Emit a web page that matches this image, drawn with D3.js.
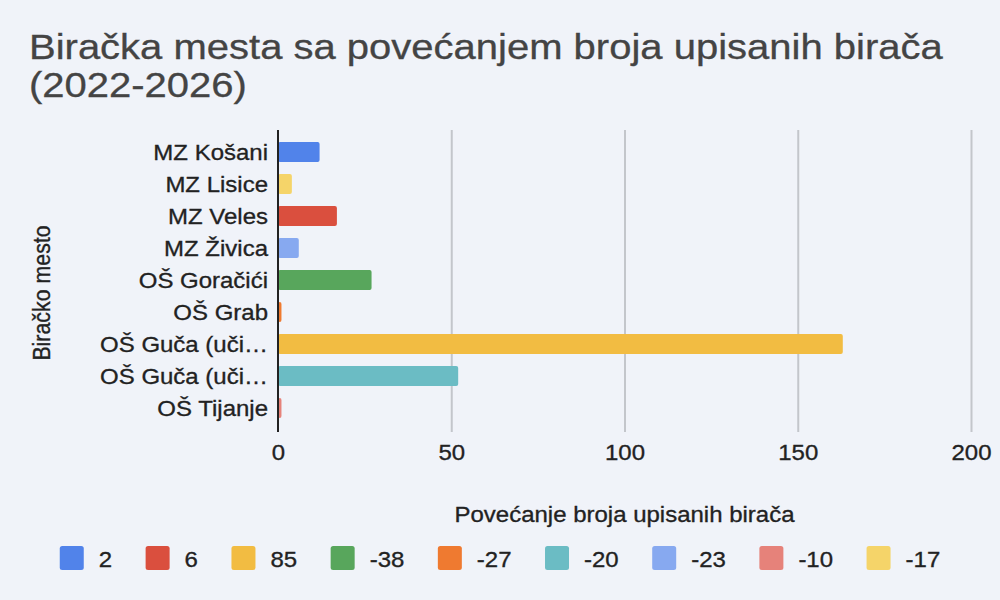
<!DOCTYPE html>
<html>
<head>
<meta charset="utf-8">
<script src="https://cdn.jsdelivr.net/npm/d3@7"></script>
<style>
  html, body { margin: 0; padding: 0; background: #f0f3f9; }
  svg { display: block; font-family: "Liberation Sans", Arial, Helvetica, sans-serif; }
  svg text { stroke-width: 0.35px; }
</style>
</head>
<body>
<svg id="chart" width="1000" height="600"></svg>
<script>
// ---- data ----
const titleLines = ["Biračka mesta sa povećanjem broja upisanih birača", "(2022-2026)"];
const categories = ["MZ Košani", "MZ Lisice", "MZ Veles", "MZ Živica", "OŠ Goračići", "OŠ Grab", "OŠ Guča (uči…", "OŠ Guča (uči…", "OŠ Tijanje"];
const values = [12, 4, 17, 6, 27, 1, 163, 52, 1];
const barSeries = ["2", "-17", "6", "-23", "-38", "-27", "85", "-20", "-10"];
const seriesNames = ["2", "6", "85", "-38", "-27", "-20", "-23", "-10", "-17"];
const seriesColors = ["#5183ea", "#da4f3e", "#f2bc42", "#58a65c", "#ef7a30", "#6bbcc4", "#87a9f0", "#e6827a", "#f5d469"];
const xTicks = [0, 50, 100, 150, 200];
const xTitle = "Povećanje broja upisanih birača";
const yTitle = "Biračko mesto";

// ---- layout ----
const SQ = 0.89; // vertical squash of text seen in reference
const svg = d3.select("#chart");
const plot = { left: 278, right: 971, top: 130, bottom: 432 };

const x = d3.scaleLinear().domain([0, 200]).range([plot.left, plot.right]);
const y = d3.scaleBand().domain(d3.range(categories.length)).range([136, 424])
  .paddingInner(0.375).paddingOuter(0.1875);
const color = d3.scaleOrdinal().domain(seriesNames).range(seriesColors);

// title
svg.append("g").selectAll("text").data(titleLines).join("text")
  .attr("transform", (d, i) => `translate(29,${59 + i * 38}) scale(1,${SQ})`)
  .attr("font-size", 40).attr("fill", "#444444").attr("stroke", "#444444").text(d => d);

// x axis with gridlines
const xAxis = svg.append("g").attr("transform", `translate(0,${plot.bottom})`)
  .call(d3.axisBottom(x).tickValues(xTicks).tickSize(-(plot.bottom - plot.top)).tickFormat(d3.format("d")));
xAxis.select(".domain").remove();
xAxis.selectAll(".tick line").attr("stroke", "#c3c6cb").attr("stroke-width", 2)
  .attr("opacity", d => d === 0 ? 0 : 1);
xAxis.selectAll(".tick text").attr("y", 0).attr("dy", null)
  .attr("transform", `translate(0,28) scale(1,${SQ})`)
  .attr("font-size", 24).attr("fill", "#222").attr("stroke", "#222").attr("font-family", null);

// bars
svg.append("g").selectAll("rect").data(values).join("rect")
  .attr("x", x(0))
  .attr("y", (d, i) => y(i))
  .attr("width", d => x(d) - x(0))
  .attr("height", y.bandwidth())
  .attr("rx", 2)
  .attr("fill", (d, i) => color(barSeries[i]));

// zero line
svg.append("line").attr("x1", x(0)).attr("x2", x(0))
  .attr("y1", plot.top).attr("y2", plot.bottom)
  .attr("stroke", "#222").attr("stroke-width", 2);

// y axis labels
const yAxis = svg.append("g").attr("transform", `translate(${plot.left},0)`)
  .call(d3.axisLeft(y).tickSize(0).tickFormat(i => categories[i]));
yAxis.select(".domain").remove();
yAxis.selectAll(".tick text").attr("x", 0).attr("dy", null)
  .attr("transform", `translate(-10,7.6) scale(1,${SQ})`)
  .attr("font-size", 24).attr("fill", "#222").attr("stroke", "#222").attr("font-family", null);

// axis titles
svg.append("text")
  .attr("transform", `translate(${(plot.left + plot.right) / 2},522) scale(1,${SQ})`)
  .attr("text-anchor", "middle").attr("font-size", 24).attr("fill", "#222").attr("stroke", "#222").text(xTitle);
svg.append("text")
  .attr("transform", `translate(50,293) scale(1,${SQ}) rotate(-90)`)
  .attr("text-anchor", "middle").attr("font-size", 24).attr("fill", "#222").attr("stroke", "#222").text(yTitle);

// legend
const legend = svg.append("g");
const items = legend.selectAll("g").data(seriesNames).join("g");
items.append("rect").attr("width", 24).attr("height", 24).attr("rx", 2.5).attr("y", 546)
  .attr("fill", d => color(d));
items.append("text").attr("font-size", 24).attr("fill", "#222").attr("stroke", "#222")
  .attr("transform", `translate(39,567) scale(1,${SQ})`).text(d => d);
let cx = 0;
const offsets = [];
items.each(function () {
  const w = d3.select(this).select("text").node().getComputedTextLength();
  offsets.push(cx);
  cx += 24 + 15 + w + 33.5;
});
const total = cx - 33.5;
const start = 500 - total / 2;
items.attr("transform", (d, i) => `translate(${start + offsets[i]},0)`);
</script>
</body>
</html>
